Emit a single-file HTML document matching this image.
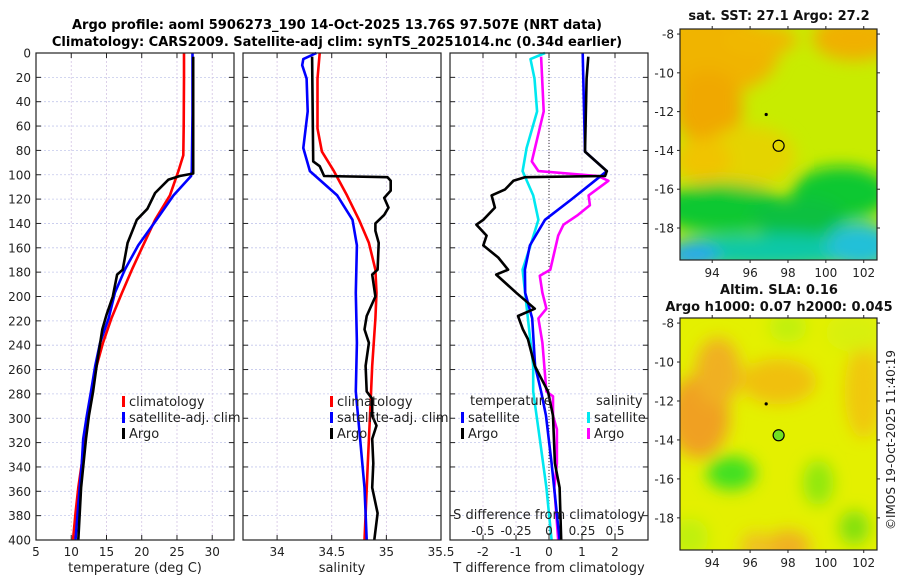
<!DOCTYPE html>
<html><head><meta charset="utf-8">
<style>
html,body{margin:0;padding:0;background:#fff;}
svg{display:block;font-family:"DejaVu Sans","Liberation Sans",sans-serif;}
</style></head>
<body>
<svg id="chart" width="900" height="580" viewBox="0 0 900 580" xmlns="http://www.w3.org/2000/svg">
<defs>
<filter id="blur1" x="-20%" y="-20%" width="140%" height="140%"><feGaussianBlur stdDeviation="8"/></filter>
<clipPath id="clipMap1"><rect x="680" y="29" width="197" height="231"/></clipPath>
<clipPath id="clipMap2"><rect x="680" y="318" width="197" height="232"/></clipPath>
</defs>
<text x="337" y="29" font-size="13" font-weight="bold" text-anchor="middle">Argo profile: aoml 5906273_190 14-Oct-2025 13.76S 97.507E (NRT data)</text>
<text x="337" y="46" font-size="13" font-weight="bold" text-anchor="middle">Climatology: CARS2009. Satellite-adj clim: synTS_20251014.nc (0.34d earlier)</text>
<g id="panels"></g>
<g id="maps"></g>
<text transform="translate(895,440) rotate(-90)" font-size="12" text-anchor="middle" fill="#222">©IMOS 19-Oct-2025 11:40:19</text>
</svg>
<script>
// ---- data ----
const tempClimDepth = [0,20,60,84,97,117,137,158,178,197,218,238,257,278,298,317,337,357,378,400];
const tempClim = [26.0,26.0,25.95,25.9,25.2,24.0,21.9,20.2,18.6,17.2,15.7,14.5,13.6,12.9,12.3,11.9,11.5,11.0,10.6,10.25];
const tempSatDepth = [0,50,97,101,117,137,158,178,197,218,238,257,278,298,317,337,357,378,400];
const tempSat = [27.2,27.2,27.1,27.0,24.5,22.1,19.5,17.6,16.2,15.3,14.1,13.4,12.8,12.2,11.7,11.5,11.2,10.9,10.6];
const tempArgoDepth = [3,50,99,101,104,115,128,137,156,178,182,200,215,227,257,278,298,317,357,400];
const tempArgo = [27.3,27.3,27.3,25.4,23.8,21.9,20.8,19.3,18.0,17.3,16.5,15.9,15.0,14.4,13.6,13.1,12.5,12.1,11.4,11.0];

const salClimDepth = [0,21,62,81,97,117,137,156,178,197,218,257,298,337,400];
const salClim = [34.39,34.37,34.37,34.41,34.52,34.64,34.75,34.84,34.90,34.91,34.90,34.87,34.85,34.83,34.80];
const salSatDepth = [0,5,10,21,48,78,97,117,137,158,197,238,278,317,357,400];
const salSat = [34.36,34.24,34.23,34.27,34.28,34.24,34.30,34.55,34.69,34.73,34.72,34.73,34.72,34.76,34.80,34.82];
const salArgoDepth = [3,89,93,101,102,105,113,119,127,133,140,146,156,178,182,200,216,227,238,257,278,284,298,306,317,337,357,378,400];
const salArgo = [34.32,34.33,34.39,34.43,35.01,35.04,35.04,34.98,35.02,34.98,34.90,34.90,34.93,34.92,34.87,34.90,34.82,34.80,34.84,34.81,34.82,34.87,34.87,34.91,34.87,34.88,34.87,34.92,34.89];

const dTSatDepth = [0,81,97,107,120,137,158,178,197,218,257,278,298,337,400];
const dTSat = [1.02,1.09,1.75,1.29,0.69,-0.12,-0.58,-0.73,-0.72,-0.51,-0.42,-0.24,-0.09,0.08,0.32];
const dTArgoDepth = [3,21,81,97,101,102,105,112,117,127,137,141,150,158,168,178,182,197,210,216,227,235,257,278,298,337,357,400];
const dTArgo = [1.19,1.14,1.09,1.75,1.7,-0.73,-1.08,-1.33,-1.74,-1.64,-1.99,-2.2,-1.89,-1.99,-1.54,-1.24,-1.6,-0.99,-0.43,-0.94,-0.79,-0.64,-0.43,-0.03,0.12,0.18,0.32,0.37];
const dSSatDepth = [0,5,21,48,78,97,117,137,158,178,218,257,278,317,357,400];
const dSSat = [-0.03,-0.14,-0.11,-0.09,-0.17,-0.20,-0.12,-0.08,-0.14,-0.20,-0.16,-0.12,-0.12,-0.07,-0.02,0.02];
const dSArgoDepth = [3,48,89,97,101,105,117,125,133,141,150,178,183,197,210,218,238,278,282,298,309,337,357,400];
const dSArgo = [-0.06,-0.04,-0.13,-0.08,0.37,0.45,0.30,0.31,0.22,0.11,0.07,0.01,-0.07,-0.05,-0.02,-0.08,-0.05,-0.02,0.03,0.03,0.06,0.06,0.04,0.07];

const depthTicks = [0,20,40,60,80,100,120,140,160,180,200,220,240,260,280,300,320,340,360,380,400];
const tempTicks = [5,10,15,20,25,30];
const tempTickLabels = ["5","10","15","20","25","30"];
const salTicks = [34,34.5,35,35.5];
const salTickLabels = ["34","34.5","35","35.5"];
const dTTicks = [-2,-1,0,1,2];
const dTTickLabels = ["-2","-1","0","1","2"];
const dSTicks = [-0.5,-0.25,0,0.25,0.5];
const dSTickLabels = ["-0.5","-0.25","0","0.25","0.5"];

const lonTicks = [94,96,98,100,102];
const latTicks = [-8,-10,-12,-14,-16,-18];
const argoLon = 97.507, argoLat = -13.76;
const prevLon = 96.85, prevLat = -12.15;

// ---- helpers ----
const NS = "http://www.w3.org/2000/svg";
function mk(tag, attrs, parent){ const e=document.createElementNS(NS,tag); for(const k in attrs) e.setAttribute(k,attrs[k]); if(parent) parent.appendChild(e); return e; }
const Y0=53, Y1=540;
function yDepth(d){ return Y0 + d*(Y1-Y0)/400; }
function linScale(d0,d1,r0,r1){ return v => r0 + (v-d0)*(r1-r0)/(d1-d0); }

const panelsG = document.getElementById('panels');

function drawPanel(name, x0, x1, xmin, xmax, ticks, tickLabels, xlabel, yLabels){
  const g = mk('g',{},panelsG);
  
  
  const xs = linScale(xmin,xmax,x0,x1);
  depthTicks.forEach(d=>{
    const l = mk('line',{x1:x0,x2:x1,y1:yDepth(d),y2:yDepth(d),stroke:'#c4c8ec','stroke-width':0.8,'stroke-dasharray':'2,2'},g);
    
    
  });
  ticks.forEach(t=>{
    const l = mk('line',{x1:xs(t),x2:xs(t),y1:Y0,y2:Y1,stroke:'#d4c4e4','stroke-width':0.8,'stroke-dasharray':'2,2'},g);
    
    
  });
  depthTicks.forEach(d=>{
    mk('line',{x1:x0,x2:x0+5,y1:yDepth(d),y2:yDepth(d),stroke:'#222','stroke-width':1},g);
    mk('line',{x1:x1,x2:x1-5,y1:yDepth(d),y2:yDepth(d),stroke:'#222','stroke-width':1},g);
    if(yLabels){
      const t = mk('text',{x:x0-5,y:yDepth(d)+4.5,'font-size':12,'text-anchor':'end',fill:'#222'},g);
      t.textContent = String(d);
      
      
    }
  });
  ticks.forEach((tv,i)=>{
    mk('line',{x1:xs(tv),x2:xs(tv),y1:Y1,y2:Y1-5,stroke:'#222','stroke-width':1},g);
    mk('line',{x1:xs(tv),x2:xs(tv),y1:Y0,y2:Y0+5,stroke:'#222','stroke-width':1},g);
    const t = mk('text',{x:xs(tv),y:556,'font-size':12,'text-anchor':'middle',fill:'#222'},g);
    t.textContent = tickLabels[i];
    
    
  });
  const xl = mk('text',{x:(x0+x1)/2,y:572,'font-size':13,'text-anchor':'middle',fill:'#222'},g);
  xl.textContent = xlabel;
  
  
  return {g, xs, x0, x1};
}
function drawLine(p, vals, depths, color, name){
  const pts = vals.map((v,i)=>p.xs(v).toFixed(1)+','+yDepth(depths[i]).toFixed(1)).join(' ');
  const pl = mk('polyline',{points:pts,fill:'none',stroke:color,'stroke-width':2.6,'stroke-linejoin':'round'},p.g);
  
  
}
function frame(p){
  const r = mk('rect',{x:p.x0,y:Y0,width:p.x1-p.x0,height:Y1-Y0,fill:'none',stroke:'#222','stroke-width':1.2},p.g);
  
  
}
function legendEntry(p, x, y, color, label, name){
  const m = mk('rect',{x:x,y:y-10,width:3,height:11,fill:color},p.g);
  
  
  const t = mk('text',{x:x+7,y:y,'font-size':13,fill:'#222'},p.g);
  t.textContent = label;
  
  
}

const p1 = drawPanel('temperature-panel',36,234,5,33.09,tempTicks,tempTickLabels,'temperature (deg C)',true);
drawLine(p1,tempClim,tempClimDepth,'#ff0000','temp-climatology-line');
drawLine(p1,tempSat,tempSatDepth,'#0000ff','temp-satellite-line');
drawLine(p1,tempArgo,tempArgoDepth,'#000000','temp-argo-line');
frame(p1);
legendEntry(p1,122,406,'#ff0000','climatology','legend-climatology');
legendEntry(p1,122,422,'#0000ff','satellite-adj. clim','legend-satellite-adj');
legendEntry(p1,122,438,'#000000','Argo','legend-argo');

const p2 = drawPanel('salinity-panel',243,441,33.688,35.5,salTicks,salTickLabels,'salinity',false);
drawLine(p2,salClim,salClimDepth,'#ff0000','sal-climatology-line');
drawLine(p2,salSat,salSatDepth,'#0000ff','sal-satellite-line');
drawLine(p2,salArgo,salArgoDepth,'#000000','sal-argo-line');
frame(p2);
legendEntry(p2,330,406,'#ff0000','climatology','legend-climatology-2');
legendEntry(p2,330,422,'#0000ff','satellite-adj. clim','legend-satellite-adj-2');
legendEntry(p2,330,438,'#000000','Argo','legend-argo-2');

const p3 = drawPanel('difference-panel',450,648,-3,3,dTTicks,dTTickLabels,'T difference from climatology',false);
const xsS = linScale(-0.75,0.75,450,648);
const zl = mk('line',{x1:p3.xs(0),x2:p3.xs(0),y1:Y0,y2:Y1,stroke:'#333','stroke-width':1,'stroke-dasharray':'1,2'},p3.g);


const pS = {g:p3.g, xs:xsS};
drawLine(pS,dSSat,dSSatDepth,'#00e8f0','dS-satellite-line');
drawLine(pS,dSArgo,dSArgoDepth,'#ff00ff','dS-argo-line');
drawLine(p3,dTSat,dTSatDepth,'#0000ff','dT-satellite-line');
drawLine(p3,dTArgo,dTArgoDepth,'#000000','dT-argo-line');
frame(p3);
const st = mk('text',{x:549,y:519,'font-size':13,'text-anchor':'middle',fill:'#222'},p3.g);
st.textContent='S difference from climatology';


dSTicks.forEach((v,i)=>{
  const t = mk('text',{x:xsS(v),y:535,'font-size':12,'text-anchor':'middle',fill:'#222'},p3.g);
  t.textContent = dSTickLabels[i];
  
  
});
const lt = mk('text',{x:470,y:405,'font-size':13,fill:'#222'},p3.g);
lt.textContent='temperature';


const ls = mk('text',{x:596,y:405,'font-size':13,fill:'#222'},p3.g);
ls.textContent='salinity';


legendEntry(p3,461,422,'#0000ff','satellite','legend-t-satellite');
legendEntry(p3,461,438,'#000000','Argo','legend-t-argo');
legendEntry(p3,587,422,'#00e8f0','satellite','legend-s-satellite');
legendEntry(p3,587,438,'#ff00ff','Argo','legend-s-argo');

// ---- maps ----
const mapsG = document.getElementById('maps');
const mlon = linScale(92.3,102.7,680,877);
function drawMap(name, top, bottom, title1, title2, blobs, base, clip, filled){
  const g = mk('g',{},mapsG);
  
  
  const mlat = linScale(-7.74,-19.65,top,bottom);
  const cg = mk('g',{'clip-path':'url(#'+clip+')'},g);
  mk('rect',{x:680,y:top,width:197,height:bottom-top,fill:base},cg);
  const bg = mk('g',{filter:'url(#blur1)'},cg);
  blobs.forEach(b=>{
    const e = mk('ellipse',{cx:mlon(b[0]),cy:mlat(b[1]),rx:b[2]*19,ry:b[3]*19,fill:b[4]},bg);
    
    
  });
  const fr = mk('rect',{x:680,y:top,width:197,height:bottom-top,fill:'none',stroke:'#222','stroke-width':1.2},g);
  
  
  lonTicks.forEach(l=>{
    mk('line',{x1:mlon(l),x2:mlon(l),y1:bottom,y2:bottom+3,stroke:'#222'},g);
    mk('line',{x1:mlon(l),x2:mlon(l),y1:top,y2:top-3,stroke:'#222'},g);
    const t = mk('text',{x:mlon(l),y:bottom+17,'font-size':12,'text-anchor':'middle',fill:'#222'},g);
    t.textContent=String(l);
    
    
  });
  latTicks.forEach(l=>{
    mk('line',{x1:680,x2:677,y1:mlat(l),y2:mlat(l),stroke:'#222'},g);
    mk('line',{x1:877,x2:880,y1:mlat(l),y2:mlat(l),stroke:'#222'},g);
    const t = mk('text',{x:674,y:mlat(l)+4.5,'font-size':12,'text-anchor':'end',fill:'#222'},g);
    t.textContent=String(l);
    
    
  });
  const d = mk('circle',{cx:mlon(prevLon),cy:mlat(prevLat),r:1.6,fill:'#000'},g);
  
  
  const c = mk('circle',{cx:mlon(argoLon),cy:mlat(argoLat),r:5.5,fill:filled||'none',stroke:'#000','stroke-width':1.2},g);
  
  
  if(title1){
    const t = mk('text',{x:779,y:top-(title2?24:9),'font-size':13,'font-weight':'bold','text-anchor':'middle',fill:'#111'},g);
    t.textContent=title1;
    
    
  }
  if(title2){
    const t = mk('text',{x:779,y:top-7,'font-size':13,'font-weight':'bold','text-anchor':'middle',fill:'#111'},g);
    t.textContent=title2;
    
    
  }
}
drawMap('sst-map',29,260,'sat. SST: 27.1 Argo: 27.2',null,[
  [94,-9,3.5,2.2,'#f0b400'],[93.8,-11.8,1.8,2,'#f0a800'],[101.5,-8.2,2.2,1.2,'#f0b000'],
  [96.5,-8.3,2,0.8,'#f0b800'],[96,-14.3,2.4,1.6,'#e4d400'],[93.5,-14.5,1.5,1.2,'#f0c400'],
  [94.5,-17,3.5,1.3,'#10c830'],[100.8,-16.2,2.6,1.4,'#10c830'],[98.5,-17.5,2.5,1.1,'#10c040'],
  [97,-19.2,5.5,0.9,'#10c8a8'],[101.8,-18.9,1.8,1.2,'#20c0d8'],[93,-19.4,1.4,0.7,'#20a8f0']
],'#c8ec00','clipMap1',null);
drawMap('sla-map',318,550,'Altim. SLA: 0.16','Argo h1000: 0.07 h2000: 0.045',[
  [93.3,-12.8,1.6,2.2,'#f0a020'],[94.3,-10.5,1.2,1.8,'#f0b020'],[97.5,-11,2,1.2,'#f0c010'],
  [102,-11.5,1,2.5,'#f0c810'],[95,-15.7,1.3,0.9,'#40e020'],[99.6,-16.2,0.8,1.2,'#90e810'],
  [101.5,-18.5,0.8,0.9,'#80e010'],[98,-8.2,1,0.8,'#c0f010'],[92.8,-19,1,1,'#c0f010'],
  [98,-19.5,1.2,0.9,'#f0b020'],[96.3,-19.5,0.8,0.8,'#f0c020'],[101.5,-8.5,1.5,1,'#d8f010']
],'#e4f000','clipMap2','#70e020');
</script>
</body></html>
